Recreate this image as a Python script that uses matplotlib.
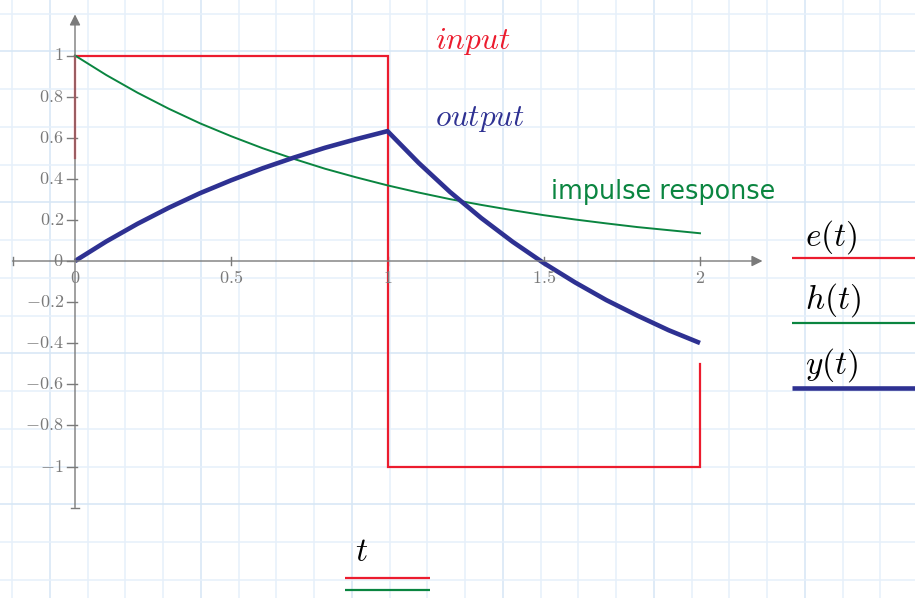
import matplotlib
matplotlib.use("Agg")
import matplotlib.pyplot as plt
import numpy as np

plt.rcParams["mathtext.fontset"] = "cm"

# ---- data -------------------------------------------------------------
t_samples = [0.0, 0.1, 0.2, 0.3, 0.4, 0.5, 0.6, 0.7, 0.8, 0.9, 1.0,
             1.1, 1.2, 1.3, 1.4, 1.5, 1.6, 1.7, 1.8, 1.9, 2.0]
# impulse response h(t)
h_values = [1.000, 0.905, 0.819, 0.741, 0.670, 0.607, 0.549, 0.497, 0.449,
            0.407, 0.368, 0.333, 0.301, 0.273, 0.247, 0.223, 0.202, 0.183,
            0.165, 0.150, 0.135]
# system output y(t)
y_values = [0.000, 0.095, 0.181, 0.259, 0.330, 0.393, 0.451, 0.503, 0.551,
            0.593, 0.632, 0.477, 0.336, 0.209, 0.094, -0.010, -0.104, -0.190,
            -0.266, -0.337, -0.399]
# input pulse e(t)
e_times = [0.0, 0.0, 1.0, 1.0, 2.0, 2.0]
e_values = [0.5, 1.0, 1.0, -1.0, -1.0, -0.5]

x_ticks = [0, 0.5, 1, 1.5, 2]
x_tick_labels = ["0", "0.5", "1", "1.5", "2"]
y_ticks = [1, 0.8, 0.6, 0.4, 0.2, 0, -0.2, -0.4, -0.6, -0.8, -1]
y_tick_labels = ["1", "0.8", "0.6", "0.4", "0.2", "0",
                 "-0.2", "-0.4", "-0.6", "-0.8", "-1"]

RED = "#ec1c2e"
GREEN = "#0a8540"
BLUE = "#2e3192"
GRAY = "#7a7a7a"

W, H = 915, 598
fig = plt.figure(figsize=(W / 100, H / 100), dpi=100)

# ---- squared paper background ----------------------------------------
bg = fig.add_axes([0, 0, 1, 1])
bg.set_xlim(0, W)
bg.set_ylim(H, 0)
bg.axis("off")
step = 37.75
for k, x in enumerate(np.arange(12.0, W, step)):
    major = (k % 4 == 1)
    bg.axvline(x, color="#d6e6f5" if major else "#e6f0fa", lw=1.1, zorder=0)
for k, y in enumerate(np.arange(13.5, H, step)):
    major = (k % 4 == 1)
    bg.axhline(y, color="#d6e6f5" if major else "#e6f0fa", lw=1.1, zorder=0)

# ---- plot area --------------------------------------------------------
ax = fig.add_axes([0, 0, 1, 1])
ax.patch.set_alpha(0)
ax.axis("off")
ax.set_xlim(-75 / 312.5, (W - 75) / 312.5)
ax.set_ylim((261 - H) / 205.5, 261 / 205.5)

# axes with arrows
ax.annotate("", xy=(2.2, 0), xytext=(-0.2, 0),
            arrowprops=dict(arrowstyle="-|>", color=GRAY, lw=1.0,
                            mutation_scale=16, shrinkA=0, shrinkB=0))
ax.annotate("", xy=(0, 1.2), xytext=(0, -1.2),
            arrowprops=dict(arrowstyle="-|>", color=GRAY, lw=1.0,
                            mutation_scale=16, shrinkA=0, shrinkB=0))
ax.plot([-0.2, -0.2], [-0.02, 0.02], color=GRAY, lw=1.0)
ax.plot([-0.013, 0.013], [-1.2, -1.2], color=GRAY, lw=1.0)

for xt, lab in zip(x_ticks, x_tick_labels):
    if xt != 0:
        ax.plot([xt, xt], [-0.02, 0.02], color=GRAY, lw=1.0)
    ax.text(xt, -0.04, "$" + lab + "$", color=GRAY, fontsize=13,
            ha="center", va="top")
for yt, lab in zip(y_ticks, y_tick_labels):
    ax.plot([-0.026, 0.006], [yt, yt], color=GRAY, lw=1.0)
    ax.text(-0.036, yt, "$" + lab + "$", color=GRAY, fontsize=13,
            ha="right", va="center")

# curves
ax.plot(e_times, e_values, color=RED, lw=1.6, solid_joinstyle="miter")
ax.plot(t_samples, h_values, color=GREEN, lw=1.4)
ax.plot(t_samples, y_values, color=BLUE, lw=3.3, solid_capstyle="butt")

# annotations
ax.text(1.152, 1.066, r"$input$", color=RED, fontsize=22.5,
        ha="left", va="center")
ax.text(1.152, 0.69, r"$output$", color=BLUE, fontsize=22.5,
        ha="left", va="center")
ax.text(1.523, 0.336, "impulse response", color=GREEN, fontsize=18.4,
        family="DejaVu Sans", ha="left", va="center")

# trace keys
for label, yl, yline, col, lw in [
        (r"$e(t)$", 0.117, 0.0146, RED, 1.6),
        (r"$h(t)$", -0.19, -0.302, GREEN, 1.6),
        (r"$y(t)$", -0.506, -0.618, BLUE, 3.3)]:
    ax.text(2.336, yl, label, color="black", fontsize=24,
            ha="left", va="center")
    ax.plot([2.294, 2.70], [yline, yline], color=col, lw=lw,
            solid_capstyle="butt", clip_on=False)

ax.text(0.918, -1.416, r"$t$", color="black", fontsize=24,
        ha="center", va="center")
ax.plot([0.864, 1.136], [-1.543, -1.543], color=RED, lw=1.6,
        solid_capstyle="butt")
ax.plot([0.864, 1.136], [-1.601, -1.601], color=GREEN, lw=1.6,
        solid_capstyle="butt")

fig.savefig("out.png", dpi=100)
